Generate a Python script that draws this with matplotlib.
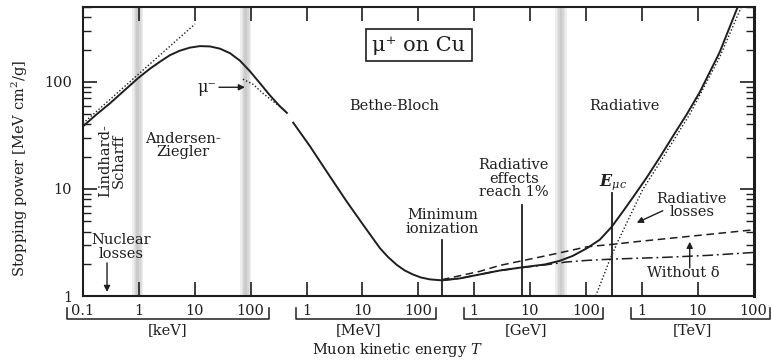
import matplotlib
matplotlib.use('Agg')
import matplotlib.pyplot as plt
from matplotlib.ticker import FixedLocator, NullLocator, NullFormatter, LogLocator
import numpy as np

plt.rcParams['font.family'] = ['DejaVu Serif']
plt.rcParams['mathtext.fontset'] = 'dejavuserif'

# energies in MeV, stopping power in MeV cm^2/g

# Lindhard-Scharff / Andersen-Ziegler region (ends at the gap near 0.5 MeV)
low_T = [1e-4, 1.71e-4, 3.04e-4, 5.42e-4, 9.64e-4, 1.58e-3, 2.39e-3, 3.60e-3, 5.44e-3,
         8.21e-3, 0.0124, 0.0187, 0.0282, 0.0427, 0.0644, 0.0972, 0.147, 0.221, 0.334, 0.446]
low_S = [38.4, 49.2, 63.0, 82.6, 108.1, 132.7, 154.3, 177.5, 195.6,
         208.8, 215.6, 214.2, 204.2, 185.3, 157.7, 125.6, 97.0, 74.9, 59.1, 51.3]

# Bethe-Bloch and radiative region, total stopping power
high_T = [0.578, 1.15, 2.62, 5.22, 10.3, 20.6, 28.6, 41.4, 57.5, 80.0, 111, 161, 264, 555,
          1265, 2884, 7130, 1.84e4, 3.41e4, 5.83e4, 1.04e5, 1.77e5, 2.90e5, 4.57e5, 6.90e5,
          1.23e6, 2.10e6, 3.59e6, 6.38e6, 1.09e7, 2.48e7, 5.21e7]
high_S = [41.6, 25.1, 13.1, 7.65, 4.63, 2.80, 2.32, 1.95, 1.73, 1.59, 1.49, 1.43, 1.40, 1.46,
          1.59, 1.73, 1.85, 1.97, 2.13, 2.37, 2.79, 3.35, 4.43, 6.13, 8.29,
          12.8, 19.7, 30.9, 49.7, 80.0, 189, 500]

# ionization only, with density effect
ion_T = [264, 555, 1265, 2884, 7130, 1.84e4, 4.55e4, 1.04e5, 2.90e5, 2.80e6, 1.64e7, 1e8]
ion_S = [1.40, 1.46, 1.59, 1.73, 1.84, 1.95, 2.08, 2.15, 2.21, 2.30, 2.40, 2.55]

# ionization without density effect
nodelta_T = [264, 1265, 2884, 7130, 3.41e4, 1.04e5, 3.03e5, 9.21e5, 7.22e6, 1e8]
nodelta_S = [1.42, 1.70, 1.93, 2.13, 2.53, 2.88, 3.04, 3.24, 3.61, 4.15]

# radiative losses only
rad_T = [1.50e5, 2.0e5, 2.68e5, 3.72e5, 5.40e5, 1.04e6, 2.10e6, 7.22e6, 2.48e7, 6.15e7]
rad_S = [1.0, 1.47, 2.18, 3.21, 4.83, 9.85, 17.6, 49.7, 170, 511]

# Lindhard-Scharff extrapolation
lind_T = [1e-4, 0.0101]
lind_S = [40.9, 347]

# negative muons
mum_T = [0.0728, 0.110, 0.166, 0.295, 0.411]
mum_S = [105.8, 95.0, 78.2, 61.7, 54.2]

# regime boundaries
band_T = [9.6e-4, 0.082, 3.6e4]

# marker lines: minimum ionization, radiative 1%, E_muc
mark_T = [270, 7.1e3, 2.9e5]
mark_top = [3.35, 7.13, 9.23]

xtick_labels = ['0.1', '1', '10', '100', '1', '10', '100', '1', '10', '100', '1', '10', '100']
unit_names = ['[keV]', '[MeV]', '[GeV]', '[TeV]']
unit_lo = [5.18e-5, 0.646, 655, 6.35e5]
unit_hi = [0.212, 206, 2.0e5, 1.95e8]
unit_mid = [3.32e-3, 8.65, 8.41e3, 8.17e6]

ink = '#1e1e1e'
fs = 10.5

fig = plt.figure(figsize=(7.71, 3.61), dpi=100)
ax = fig.add_axes([83 / 771, 65 / 361, 670.5 / 771, 289 / 361])
ax.set_xscale('log')
ax.set_yscale('log')
ax.set_xlim(1e-4, 1e8)
ax.set_ylim(1, 500)

# soft grey bands at the regime boundaries
for t in band_T:
    for w, c in [(0.1, '#eeeeee'), (0.075, '#e2e2e2'), (0.05, '#d6d6d6'), (0.025, '#cbcbcb')]:
        ax.axvspan(t * 10 ** -w, t * 10 ** w, color=c, lw=0, zorder=0)

ax.plot(low_T, low_S, color=ink, lw=1.4, zorder=3)
ax.plot(high_T, high_S, color=ink, lw=1.4, zorder=3)
ax.plot(ion_T, ion_S, color=ink, lw=1.1, dashes=(7, 2.5, 1.2, 2.5), zorder=3)
ax.plot(nodelta_T, nodelta_S, color=ink, lw=1.1, dashes=(5, 3), zorder=3)
ax.plot(rad_T, rad_S, color=ink, lw=1.0, dashes=(1, 1.5), zorder=3)
ax.plot(lind_T, lind_S, color=ink, lw=1.0, dashes=(1, 1.5), zorder=3)
ax.plot(mum_T, mum_S, color=ink, lw=1.0, dashes=(1, 1.5), zorder=3)

for t, top in zip(mark_T, mark_top):
    ax.plot([t, t], [1, top], color=ink, lw=1.3, zorder=3)

tk = dict(ha='center', va='center', fontsize=fs, color=ink, linespacing=0.95)
ax.text(4.9e-4, 2.88, 'Nuclear\nlosses', **tk)
ax.text(3.3e-4, 18.4, 'Lindhard-\nScharff', rotation=90, **tk)
ax.text(6.15e-3, 25.5, 'Andersen-\nZiegler', **tk)
ax.text(0.0165, 89, 'μ⁻', ha='center', va='center', fontsize=11.5, color=ink)
ax.text(36.7, 59, 'Bethe-Bloch', **tk)
ax.text(4.97e5, 59, 'Radiative', **tk)
ax.text(270, 4.89, 'Minimum\nionization', **tk)
ax.text(5.13e3, 12.5, 'Radiative\neffects\nreach 1%', **tk)
ax.text(3.03e5, 11.5, r'$\mathbfit{E}_{\mu c}$', ha='center', va='center', fontsize=11.5, color=ink)
ax.text(7.83e6, 6.97, 'Radiative\nlosses', **tk)
ax.text(5.64e6, 1.64, 'Without δ', **tk)
ax.text(102.6, 220, 'μ⁺ on Cu', ha='center', va='center', fontsize=15, color=ink,
        bbox=dict(boxstyle='square,pad=0.3', fc='white', ec=ink, lw=1.2))

arr = dict(arrowstyle='-|>', color=ink, lw=1.0, mutation_scale=9, shrinkA=0, shrinkB=0)
ax.annotate('', xy=(2.69e-4, 1.09), xytext=(2.69e-4, 2.04), arrowprops=arr)
ax.annotate('', xy=(0.0791, 89), xytext=(0.0271, 89), arrowprops=arr)
ax.annotate('', xy=(8.15e5, 4.83), xytext=(2.38e6, 6.26), arrowprops=arr)
ax.annotate('', xy=(7.22e6, 3.21), xytext=(7.22e6, 1.83), arrowprops=arr)

ax.xaxis.set_major_locator(FixedLocator(10.0 ** np.arange(-4, 9)))
ax.xaxis.set_minor_locator(NullLocator())
ax.set_xticklabels(xtick_labels)
ax.yaxis.set_major_locator(FixedLocator([1, 10, 100]))
ax.yaxis.set_minor_locator(LogLocator(base=10, subs=np.arange(2, 10), numticks=20))
ax.yaxis.set_minor_formatter(NullFormatter())
ax.set_yticklabels(['1', '10', '100'])
ax.tick_params(which='both', direction='in', top=True, right=True, colors=ink, labelcolor=ink)
ax.tick_params(which='major', length=10, width=1.2)
ax.tick_params(which='minor', length=6, width=1.0)
ax.tick_params(axis='x', labelsize=fs, pad=6)
ax.tick_params(axis='y', labelsize=fs, pad=8)
for sp in ax.spines.values():
    sp.set_linewidth(1.5)
    sp.set_color(ink)
ax.spines['right'].set_linewidth(2.2)

# unit brackets under the energy axis
btr = ax.get_xaxis_transform()
for lo, hi, mid, name in zip(unit_lo, unit_hi, unit_mid, unit_names):
    ax.plot([lo, lo, hi, hi], [-0.042, -0.080, -0.080, -0.042], color=ink, lw=1.1,
            transform=btr, clip_on=False)
    ax.text(mid, -0.118, name, transform=btr, ha='center', va='center', fontsize=fs, color=ink)

ax.set_ylabel('Stopping power [MeV cm$^2$/g]', fontsize=fs, color=ink)
ax.yaxis.set_label_coords(-0.094, 0.441)
ax.set_xlabel('Muon kinetic energy $T$', fontsize=fs, color=ink)
ax.xaxis.set_label_coords(0.469, -0.187)
ax.xaxis.label.set_va('center')
ax.yaxis.label.set_va('center')

fig.savefig('out.png', dpi=100)
